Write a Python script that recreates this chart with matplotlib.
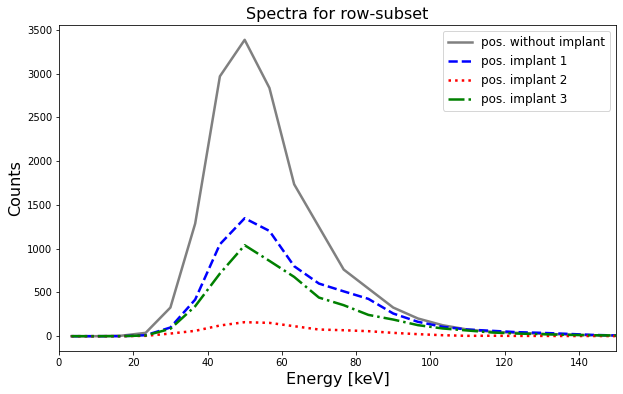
import matplotlib
matplotlib.use("Agg")
import matplotlib.pyplot as plt
import numpy as np

# bin centres [keV]
energy = [3.33, 10.0, 16.67, 23.33, 30.0, 36.67, 43.33, 50.0, 56.67, 63.33, 70.0,
          76.67, 83.33, 90.0, 96.67, 103.33, 110.0, 116.67, 123.33, 130.0, 136.67,
          143.33, 150.0]

no_implant = [0, 0, 5, 38, 327, 1286, 2968, 3385, 2835, 1735, 1248,
              761, 544, 327, 202, 125, 76, 50, 38, 27, 19, 11, 8]
implant1 = [0, 0, 0, 11, 99, 418, 1050, 1347, 1202, 799, 601,
            512, 426, 259, 164, 107, 76, 61, 46, 38, 27, 15, 8]
implant2 = [0, 0, 0, 4, 30, 61, 122, 160, 152, 114, 76,
            68, 57, 38, 23, 11, 4, 5, 3, 3, 2, 2, 1]
implant3 = [0, 0, 0, 8, 84, 342, 715, 1039, 860, 677, 441,
            354, 243, 190, 126, 88, 65, 42, 30, 23, 15, 11, 8]

fig = plt.figure(figsize=(623 / 72, 394 / 72), dpi=72)
ax = fig.add_axes([59 / 623, 1 - 351 / 394, (616 - 59) / 623, (351 - 25) / 394])

ax.plot(energy, no_implant, '-', color='gray', linewidth=2.5, label='pos. without implant')
ax.plot(energy, implant1, '--', color='blue', linewidth=2.5, label='pos. implant 1')
ax.plot(energy, implant2, ':', color='red', linewidth=2.5, label='pos. implant 2')
ax.plot(energy, implant3, '-.', color='green', linewidth=2.5, label='pos. implant 3')

ax.set_xlim(0, 150)
ax.set_xlabel("Energy [keV]", fontsize=16)
ax.set_ylabel("Counts", fontsize=16)
ax.set_title("Spectra for row-subset", fontsize=16)
ax.tick_params(labelsize=10)
ax.legend(loc='upper right', fontsize=12)

fig.savefig('out.png', dpi=72)
